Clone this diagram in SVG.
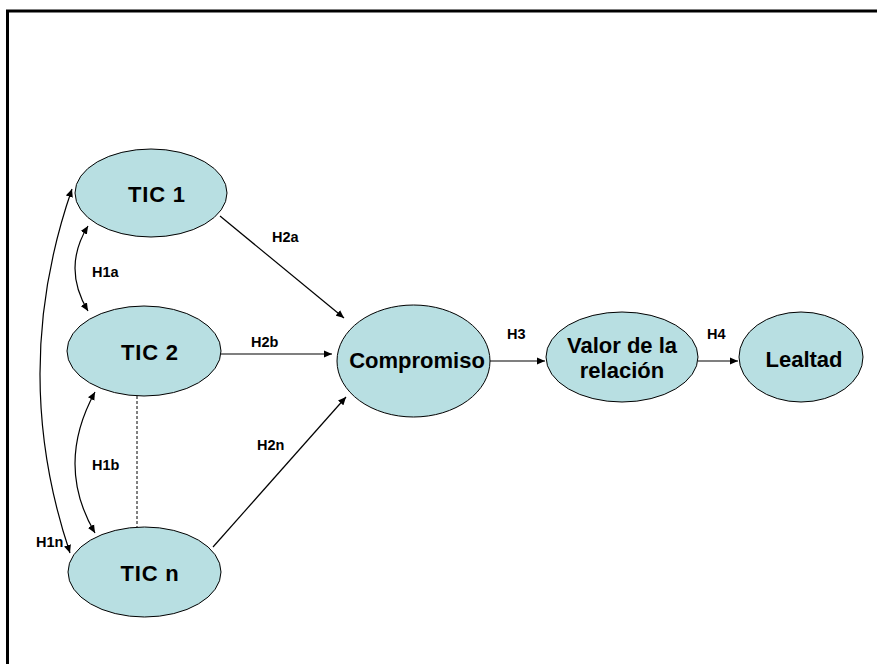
<svg xmlns="http://www.w3.org/2000/svg" width="877" height="664" viewBox="0 0 877 664">
<defs>
<marker id="ah" viewBox="0 0 10 10" refX="10" refY="5" markerWidth="8" markerHeight="8" markerUnits="userSpaceOnUse" orient="auto-start-reverse">
<path d="M0,0.5 L10,5 L0,9.5 Z" fill="#000"/>
</marker>
<style>
.node{fill:#b8dfe2;stroke:#000;stroke-width:1}
.nt{font-family:"Liberation Sans",Arial,sans-serif;font-weight:bold;font-size:22px;text-anchor:middle;fill:#000}
.sp{letter-spacing:0.8px}
.lb{font-family:"Liberation Sans",Arial,sans-serif;font-weight:bold;font-size:14.5px;fill:#000}
.c{fill:none;stroke:#000;stroke-width:1.2}
</style>
</defs>
<rect width="877" height="664" fill="#fff"/>
<path d="M7.5,664 L7.5,11 L877,11" fill="none" stroke="#000" stroke-width="3"/>
<g id="connectors">
<path class="c" d="M72,189 Q9,371 70,553" marker-start="url(#ah)" marker-end="url(#ah)"/>
<path class="c" d="M88,226 Q62,268 88,311" marker-start="url(#ah)" marker-end="url(#ah)"/>
<path class="c" d="M95,392 Q55,465 95,533" marker-start="url(#ah)" marker-end="url(#ah)"/>
<line x1="137" y1="396" x2="137" y2="527" stroke="#000" stroke-width="1" stroke-dasharray="3,2"/>
<line class="c" x1="220" y1="216" x2="344" y2="318" marker-end="url(#ah)"/>
<line class="c" x1="221" y1="354" x2="332" y2="354" marker-end="url(#ah)"/>
<line class="c" x1="213" y1="547" x2="346" y2="397" marker-end="url(#ah)"/>
<line class="c" x1="490" y1="361" x2="545" y2="361" marker-end="url(#ah)"/>
<line class="c" x1="698" y1="361" x2="738" y2="361" marker-end="url(#ah)"/>
<text class="lb" x="92" y="277">H1a</text>
<text class="lb" x="92" y="470">H1b</text>
<text class="lb" x="36" y="547">H1n</text>
<text class="lb" x="272" y="242">H2a</text>
<text class="lb" x="251" y="347">H2b</text>
<text class="lb" x="257" y="450">H2n</text>
<text class="lb" x="507" y="339">H3</text>
<text class="lb" x="707" y="339">H4</text>
</g>
<g id="tic1"><ellipse class="node" cx="151" cy="193" rx="76" ry="44"/><text class="nt sp" x="157" y="202">TIC 1</text></g>
<g id="tic2"><ellipse class="node" cx="144" cy="351" rx="77" ry="45"/><text class="nt sp" x="150" y="360">TIC 2</text></g>
<g id="ticn"><ellipse class="node" cx="144.5" cy="572" rx="76.5" ry="45"/><text class="nt sp" x="150" y="581">TIC n</text></g>
<g id="compromiso"><ellipse class="node" cx="413.5" cy="361" rx="76.5" ry="56"/><text class="nt" x="417" y="368">Compromiso</text></g>
<g id="valor"><ellipse class="node" cx="622" cy="357" rx="76" ry="45"/><text class="nt" x="622" y="353">Valor de la</text><text class="nt" x="622" y="378">relación</text></g>
<g id="lealtad"><ellipse class="node" cx="801" cy="357" rx="62" ry="45"/><text class="nt" x="804" y="367">Lealtad</text></g>
</svg>
